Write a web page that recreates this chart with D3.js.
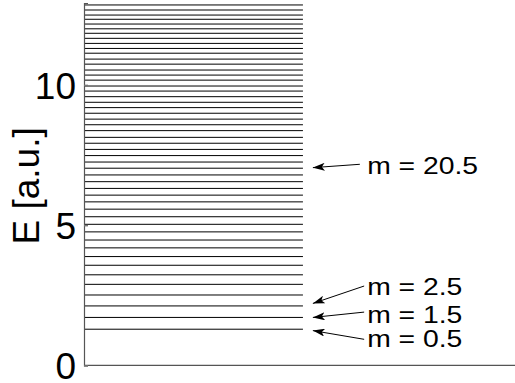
<!DOCTYPE html>
<html>
<head>
<meta charset="utf-8">
<script src="https://cdn.jsdelivr.net/npm/d3@7"></script>
<style>
  body { margin: 0; background: #fff; }
  svg { display: block; font-family: "Liberation Sans", Arial, sans-serif; }
</style>
</head>
<body>
<svg id="chart" width="515" height="383"></svg>
<script>
// energy levels, bottom (m = 0.5) to top
const levels = [
  1.29, 1.71, 2.12, 2.51, 2.89, 3.23, 3.57, 3.88, 4.19, 4.47,
  4.76, 5.03, 5.30, 5.57, 5.83, 6.07, 6.31, 6.55, 6.79, 7.03,
  7.25, 7.48, 7.70, 7.92, 8.13, 8.37, 8.58, 8.78, 8.99, 9.19,
  9.38, 9.58, 9.78, 9.96, 10.17, 10.35, 10.53, 10.74, 10.92, 11.13,
  11.30, 11.48, 11.66, 11.84, 12.00, 12.17, 12.34, 12.49, 12.67, 12.85
];
const yTicks = [0, 5, 10];
const yLabel = "E [a.u.]";

// annotations: label, energy at arrow tip, at arrow tail, at text baseline
const annLabels = ["m = 20.5", "m = 2.5", "m = 1.5", "m = 0.5"];
const annTipE   = [7.05, 2.21, 1.71, 1.24];
const annTailE  = [7.17, 2.83, 1.90, 0.93];
const annTextE  = [6.84, 2.51, 1.52, 0.65];

const svg = d3.select("#chart");
const W = 515, H = 383;
const left = 84, bottom = 365.4;

const x = d3.scaleLinear().domain([0, 1]).range([left, W]);
const y = d3.scaleLinear().domain([0, 12.92]).range([bottom, 3]);

const levelEnd = 0.508;   // levels run over about half the x range

// levels
svg.append("g").attr("class", "levels")
  .selectAll("line").data(levels).join("line")
    .attr("x1", x(0)).attr("x2", x(levelEnd))
    .attr("y1", d => y(d)).attr("y2", d => y(d))
    .attr("stroke", "#000").attr("stroke-width", 1);

// axes
svg.append("line")
  .attr("x1", x(0)).attr("x2", x(1))
  .attr("y1", y(0)).attr("y2", y(0))
  .attr("stroke", "#555").attr("stroke-width", 1.2);

const yAxis = d3.axisLeft(y).tickValues(yTicks).tickSize(-4).tickPadding(8).tickFormat(d3.format("d"));
const ga = svg.append("g").attr("transform", `translate(${left},0)`).call(yAxis);
ga.select(".domain").attr("stroke", "#555").attr("stroke-width", 1.2);
ga.selectAll(".tick line").attr("stroke", "#777").attr("stroke-width", 1.5);
ga.selectAll(".tick text")
  .attr("font-family", "Liberation Sans, Arial, sans-serif")
  .attr("font-size", 37).attr("fill", "#000").attr("dy", "0.36em");

svg.append("text")
  .attr("transform", `translate(39,${y(6.4)}) rotate(-90)`)
  .attr("text-anchor", "middle")
  .attr("font-size", 37)
  .text(yLabel);

// arrows
const defs = svg.append("defs");
defs.append("marker")
  .attr("id", "head").attr("viewBox", "0 0 12 8")
  .attr("refX", 12).attr("refY", 4)
  .attr("markerWidth", 12).attr("markerHeight", 8)
  .attr("markerUnits", "userSpaceOnUse")
  .attr("orient", "auto")
  .append("path").attr("d", "M0,0 L12,4 L0,8 L3,4 Z").attr("fill", "#000");

const tailX = [0.640, 0.650, 0.650, 0.650];
const ann = svg.append("g").attr("class", "annotations");
annLabels.forEach((lab, i) => {
  ann.append("line")
    .attr("x1", x(tailX[i])).attr("y1", y(annTailE[i]))
    .attr("x2", x(0.531)).attr("y2", y(annTipE[i]))
    .attr("stroke", "#000").attr("stroke-width", 1)
    .attr("marker-end", "url(#head)");
  ann.append("text")
    .attr("transform", `translate(${x(0.657)},${y(annTextE[i])}) scale(1.18,1)`)
    .attr("font-size", 24)
    .text(lab);
});
</script>
</body>
</html>
